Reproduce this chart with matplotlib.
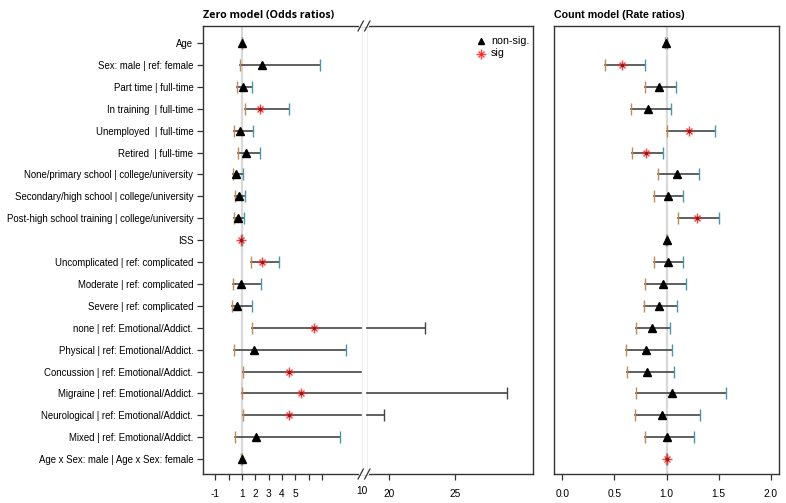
import matplotlib
matplotlib.use("Agg")
import matplotlib.pyplot as plt
import numpy as np

plt.rcParams['font.family'] = ['Liberation Sans', 'DejaVu Sans']

labels = ["Age", "Sex: male | ref: female", "Part time | full-time", "In training  | full-time",
          "Unemployed  | full-time", "Retired  | full-time",
          "None/primary school | college/university", "Secondary/high school | college/university",
          "Post-high school training | college/university", "ISS",
          "Uncomplicated | ref: complicated", "Moderate | ref: complicated", "Severe | ref: complicated",
          "none | ref: Emotional/Addict.", "Physical | ref: Emotional/Addict.",
          "Concussion | ref: Emotional/Addict.", "Migraine | ref: Emotional/Addict.",
          "Neurological | ref: Emotional/Addict.", "Mixed | ref: Emotional/Addict.",
          "Age x Sex: male | Age x Sex: female"]

# Zero model (odds ratios)
zero_est = [1.0, 2.48, 1.05, 2.36, 0.86, 1.33, 0.58, 0.78, 0.68, 0.95, 2.48, 0.93, 0.63,
            6.39, 1.93, 4.49, 5.39, 4.51, 2.08, 0.97]
zero_lo = [0.97, 0.88, 0.60, 1.20, 0.38, 0.73, 0.35, 0.48, 0.40, 0.93, 1.68, 0.35, 0.23,
           1.78, 0.40, 1.08, 0.98, 1.05, 0.50, 0.94]
zero_hi = [1.03, 6.82, 1.76, 4.50, 1.80, 2.36, 1.05, 1.20, 1.13, 0.97, 3.74, 2.40, 1.73,
           22.7, 8.83, 14.0, 28.9, 19.65, 8.32, 1.00]
zero_sig = [0, 0, 0, 1, 0, 0, 0, 0, 0, 1, 1, 0, 0, 1, 0, 1, 1, 1, 0, 0]

# Count model (rate ratios)
count_est = [0.993, 0.57, 0.926, 0.827, 1.214, 0.80, 1.096, 1.01, 1.29, 1.0, 1.01, 0.97, 0.926,
             0.86, 0.80, 0.81, 1.054, 0.96, 1.003, 1.0]
count_lo = [0.985, 0.41, 0.79, 0.657, 1.003, 0.67, 0.916, 0.88, 1.11, 0.995, 0.88, 0.79, 0.785,
            0.71, 0.61, 0.62, 0.705, 0.70, 0.79, 0.995]
count_hi = [1.0, 0.79, 1.09, 1.04, 1.468, 0.967, 1.31, 1.16, 1.50, 1.005, 1.154, 1.19, 1.096,
            1.035, 1.05, 1.07, 1.573, 1.32, 1.26, 1.005]
count_sig = [0, 1, 0, 0, 1, 1, 0, 0, 1, 0, 0, 0, 0, 0, 0, 0, 0, 0, 0, 1]

# broken axis settings for zero model
gap_from, gap_to = 10.0, 18.0
zero_ticks = [-1, 0, 1, 2, 3, 4, 5, 6, 7, 20, 25]
zero_ticklabels = ["-1", "", "1", "2", "3", "4", "5", "", "", "20", "25"]
count_ticks = [0.0, 0.5, 1.0, 1.5, 2.0]
count_ticklabels = ["0.0", "0.5", "1.0", "1.5", "2.0"]

LINE = "#444444"
LOCAP = "#c08a5a"
HICAP = "#4f97a8"
FS = 6.9
XFS = 7.3


def tr(v):
    v = np.asarray(v, dtype=float)
    return np.where(v <= gap_from, v, np.where(v >= gap_to, v - (gap_to - gap_from), gap_from))


fig = plt.figure(figsize=(7.86, 5.03), dpi=100)
W, H = 786, 503
axL = fig.add_axes([203 / W, 29 / H, 330 / W, 448 / H])
axR = fig.add_axes([554 / W, 29 / H, 225 / W, 448 / H])

n = len(labels)
ys = np.arange(n)


def draw_star(ax, x, y, transform=None):
    kw = dict(color='#ff2020', mew=1.0, zorder=5, alpha=0.85, clip_on=False)
    if transform is not None:
        kw['transform'] = transform
    ax.plot([x], [y], marker='+', ms=6.5, **kw)
    ax.plot([x], [y], marker='x', ms=5, **kw)


def draw_point(ax, x, y, sig):
    if sig:
        draw_star(ax, x, y)
        ax.plot([x], [y], marker='o', color='#802020', ms=1.6, zorder=6)
    else:
        ax.plot([x], [y], marker='^', color='black', ms=5.3, zorder=5)


def draw_bar(ax, lo, hi, y, broken=False):
    cut_l = 9.9
    cut_r = 10.4
    tlo = float(tr(lo))
    thi = float(tr(hi))
    if broken and hi > gap_from:
        ax.plot([tlo, cut_l], [y, y], color=LINE, lw=1.2, zorder=3)
        if thi > cut_r:
            ax.plot([cut_r, thi], [y, y], color=LINE, lw=1.2, zorder=3)
            ax.plot([thi], [y], marker='|', color=LINE, ms=8, mew=1.0, zorder=4)
    else:
        ax.plot([tlo, thi], [y, y], color=LINE, lw=1.2, zorder=3)
        ax.plot([thi], [y], marker='|', color=HICAP, ms=8, mew=1.0, zorder=4)
    ax.plot([tlo], [y], marker='|', color=LOCAP, ms=8, mew=1.0, zorder=4)


# ---- Left panel ----
axL.axvline(1, color='#d9d9d9', lw=1.6, zorder=1)
axL.axvline(9.98, color='#efefef', lw=0.8, zorder=1)
axL.axvline(10.4, color='#efefef', lw=0.8, zorder=1)
for i in range(n):
    draw_bar(axL, zero_lo[i], zero_hi[i], ys[i], broken=True)
    draw_point(axL, float(tr(zero_est[i])), ys[i], zero_sig[i])

axL.set_xlim(-1.93, 22.83)
axL.set_ylim(n - 1 + 0.68, -0.78)
axL.set_yticks(ys)
axL.set_yticklabels(labels, fontsize=FS)
tpos = [float(tr(t)) for t in zero_ticks]
axL.set_xticks(tpos)
axL.set_xticklabels(zero_ticklabels, fontsize=XFS)
axL.text(10.0, -11.5 / 448, "10", transform=axL.get_xaxis_transform(), ha='center', va='top',
         fontsize=XFS)
axL.tick_params(axis='both', direction='out', length=4, width=0.9, color='#333333', pad=7)
axL.tick_params(axis='y', pad=3)
for s in axL.spines.values():
    s.set_linewidth(1.0)
    s.set_color('#333333')
axL.set_title("Zero model (Odds ratios)", loc='left', fontsize=7.7, fontweight='bold',
              family=['Open Sans', 'DejaVu Sans'], pad=6)

# break marks
bx = (364 - 203) / 330
for yy in (0.0, 1.0):
    axL.plot([bx - 0.012, bx + 0.012], [yy, yy], transform=axL.transAxes, color='white',
             lw=1.6, clip_on=False, zorder=10)
    for off in (-0.010, 0.010):
        axL.plot([bx + off - 0.008, bx + off + 0.008], [yy - 0.011, yy + 0.011],
                 transform=axL.transAxes, color='#333333', lw=0.9, clip_on=False, zorder=11)

# legend
lx = (481 - 203) / 330
ny = 1 - (40.5 - 26) / 448
axL.plot([lx], [ny], transform=axL.transAxes, marker='^', color='black', ms=5, clip_on=False)
axL.text(lx + 0.03, ny, "non-sig.", transform=axL.transAxes, va='center', fontsize=XFS + 0.4)
sy = 1 - (53.5 - 26) / 448
draw_star(axL, lx, sy, transform=axL.transAxes)
axL.text(lx + 0.03, sy, "sig", transform=axL.transAxes, va='center', fontsize=XFS + 0.4)

# ---- Right panel ----
axR.axvline(1, color='#d9d9d9', lw=1.6, zorder=1)
for i in range(n):
    draw_bar(axR, count_lo[i], count_hi[i], ys[i])
    draw_point(axR, count_est[i], ys[i], count_sig[i])
axR.set_xlim(-0.08, 2.08)
axR.set_ylim(n - 1 + 0.68, -0.78)
axR.set_yticks([])
axR.set_xticks(count_ticks)
axR.set_xticklabels(count_ticklabels, fontsize=XFS)
axR.tick_params(axis='x', direction='out', length=4, width=0.9, color='#333333', pad=7)
for s in axR.spines.values():
    s.set_linewidth(1.0)
    s.set_color('#333333')
axR.set_title("Count model (Rate ratios)", loc='left', fontsize=7.7, fontweight='bold', pad=6)

fig.savefig("out.png", dpi=100)
